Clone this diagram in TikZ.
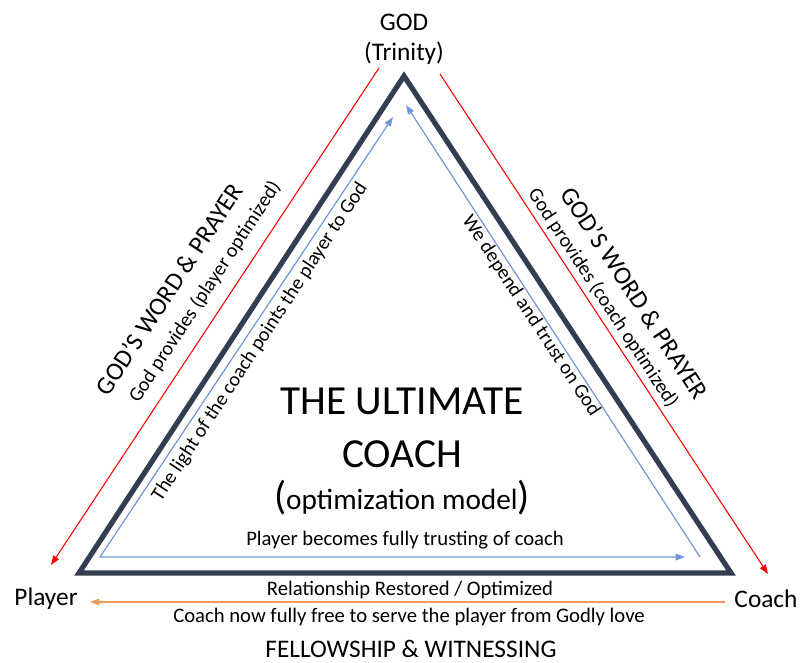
\documentclass[tikz,border=0pt]{standalone}
\usepackage{fontspec}
\setmainfont{Carlito}
\usetikzlibrary{arrows.meta}

\definecolor{navy}{HTML}{333F50}
\definecolor{lightblue}{HTML}{7096DA}
\definecolor{warmorange}{HTML}{F0995A}

\tikzset{
  big/.style={font=\fontsize{19}{22}\selectfont},
  small/.style={font=\fontsize{15}{17}\selectfont},
  smallh/.style={font=\fontsize{15.5}{18}\selectfont},
  tip/.style={-{Triangle[length=7pt,width=5pt]}},
}

\begin{document}
\begin{tikzpicture}[x=0.75pt,y=-0.75pt]
\useasboundingbox (0,0) rectangle (803,662);

% corners of the triangle
\coordinate (top) at (404,76);
\coordinate (bl) at (79,573);
\coordinate (br) at (731,573);
\draw[navy,line width=3.9pt,line join=miter] (top) -- (bl) -- (br) -- cycle;

% labels at the corners
\node[big] (god) at (404,22) {GOD};
\node[big] (trinity) at (404,53) {(Trinity)};
\node[big] (player) at (46,599) {Player};
\node[big] (coach) at (766,599) {Coach};

% red lines from God
\coordinate (rl1) at (379,68);
\coordinate (rl2) at (51,565);
\coordinate (rr1) at (440,74);
\coordinate (rr2) at (768,574);
\draw[red,line width=0.8pt,tip] (rl1) -- (rl2);
\draw[red,line width=0.8pt,tip] (rr1) -- (rr2);

\node[big,rotate=56.7] (lword) at (169,289) {GOD’S WORD \& PRAYER};
\node[small,rotate=56.7] (lprov) at (205,292) {God provides (player optimized)};
\node[big,rotate=-56.7] (rword) at (635,293) {GOD’S WORD \& PRAYER};
\node[small,rotate=-56.7] (rprov) at (603,298) {God provides (coach optimized)};

% blue lines inside
\coordinate (bc) at (100,557);
\coordinate (bt1) at (393,117);
\coordinate (bb) at (685,557);
\coordinate (br1) at (700,557);
\coordinate (bt2) at (406,105);
\draw[lightblue,line width=0.9pt,{Triangle[length=7pt,width=5pt]}-{Triangle[length=7pt,width=5pt]}] (bt1) -- (bc) -- (bb);
\draw[lightblue,line width=0.9pt,tip] (br1) -- (bt2);

\node[small,rotate=56.7] (light) at (260,342) {The light of the coach points the player to God};
\node[small,rotate=-56.7] (trust) at (531,316) {We depend and trust on God};
\node[smallh] (trusting) at (405,540) {Player becomes fully trusting of coach};

% title
\node[font=\fontsize{31}{36}\selectfont] (ultimate) at (402,401) {THE ULTIMATE};
\node[font=\fontsize{31}{36}\selectfont] (coachttl) at (402,454) {COACH};
\node (model) at (402,498) {\fontsize{30}{34}\selectfont(\fontsize{22}{26}\selectfont optimization model\fontsize{30}{34}\selectfont)};

% orange line at the bottom
\coordinate (o1) at (725,602);
\coordinate (o2) at (90,602);
\draw[warmorange,line width=0.9pt,tip] (o1) -- (o2);
\node[smallh] (restored) at (410,590) {Relationship Restored / Optimized};
\node[smallh] (free) at (409,617) {Coach now fully free to serve the player from Godly love};
\node[big,inner sep=0pt] (fellow) at (411,649) {FELLOWSHIP \& WITNESSING};

\end{tikzpicture}
\end{document}
